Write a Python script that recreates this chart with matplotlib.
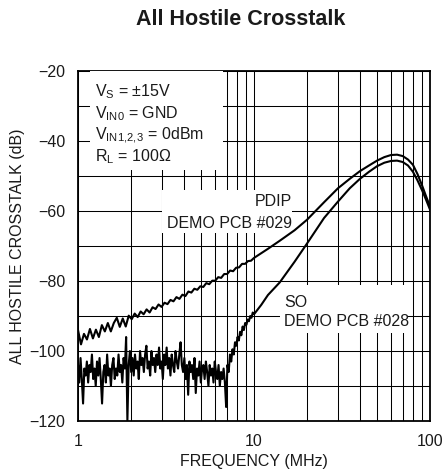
"""
All Hostile Crosstalk vs frequency, PDIP and SO demo boards.
"""
import numpy as np
import matplotlib
matplotlib.use("Agg")
import matplotlib.pyplot as plt
from matplotlib.patches import Rectangle
from matplotlib.ticker import FixedLocator, NullFormatter

# ── Data ─────────────────────────────────────────────────────────────────────
# noisy low-frequency part, sampled on a log grid from 1 to 10 MHz
pdip_low_db = [
    -94.0, -98.1, -95.1, -96.7, -93.7, -96.4, -93.9, -96.0, -92.6, -94.4,
    -92.0, -94.4, -92.0, -90.5, -93.1, -90.7, -93.0, -89.9, -90.9, -89.3,
    -90.3, -88.7, -89.5, -88.1, -89.0, -87.5, -88.0, -86.7, -87.4, -86.2,
    -86.6, -85.4, -85.8, -84.6, -85.1, -83.9, -84.3, -83.0, -83.3, -82.2,
    -82.5, -81.5, -81.7, -80.6, -80.9, -79.9, -79.9, -78.9, -79.1, -78.0,
    -78.0, -77.0, -77.2, -76.2, -76.1, -75.1, -75.1, -74.3, -74.2, -73.4,
]
so_low_db = [
    -104, -109, -102, -108, -115, -105, -107, -103, -109, -104,
    -106, -101, -108, -105, -110, -103, -107, -102, -108, -115,
    -106, -104, -109, -101, -107, -105, -110, -104, -102, -108,
    -105, -107, -101, -106, -104, -109, -102, -105, -96, -120,
    -104, -100, -106, -102, -107, -101, -105, -103, -108, -100,
    -104, -102, -106, -101, -98.5, -105, -103, -107, -100, -104,
    -102, -106, -101, -104, -99, -105, -103, -108, -101, -104,
    -99, -105, -102, -107, -101, -104, -106, -100, -103, -105,
    -101, -97.5, -104, -106, -102, -108, -104, -112.5, -103, -106,
    -104, -108, -102, -112, -105, -107, -103, -109, -105, -104,
    -108, -103, -106, -110, -104, -107, -105, -109, -103, -106,
    -108, -104, -110, -106, -108, -105, -109, -116, -104, -106,
    -101, -103, -99.5, -101, -97.5, -98.5, -96, -97, -94.5, -95.5,
    -93, -94, -92, -92.5, -91, -91.5, -90, -90.5, -89, -89.5,
]

# smooth high-frequency part, 10 to 100 MHz
pdip_hi_freq = [10, 12, 14, 17, 20, 25, 30, 35, 40, 45, 50, 55, 60, 65,
                70, 75, 80, 85, 90, 95, 100]
pdip_hi_db = [-73.4, -70.8, -68.5, -65.5, -62.5, -57.5, -53.5, -50.8, -48.6,
              -47.0, -45.6, -44.6, -44.0, -43.9, -44.3, -45.3, -46.8, -49.5,
              -52.6, -55.8, -58.7]
so_hi_freq = [10, 11, 12, 14, 17, 20, 25, 30, 35, 40, 45, 50, 55, 60, 65,
              70, 75, 80, 85, 90, 95, 100]
so_hi_db = [-89.5, -86.8, -84.0, -80.4, -74.5, -69.3, -62.0, -57.3, -53.5,
            -50.8, -48.8, -47.2, -46.2, -45.7, -45.6, -46.0, -47.0, -48.8,
            -51.3, -54.0, -56.8, -59.6]

y_major = [-120, -100, -80, -60, -40, -20]
y_minor = [-110, -90, -70, -50, -30]
x_major = [1, 10, 100]
x_labels = ["1", "10", "100"]
x_minor = [2, 3, 4, 5, 6, 7, 8, 9, 20, 30, 40, 50, 60, 70, 80, 90]

conditions = ["V$_S$ = \u00b115V", "V$_{IN0}$ = GND",
              r"V$_{IN1,\!2,\!3}$ = 0dBm", "R$_L$ = 100\u03a9"]

# ── Build the traces ─────────────────────────────────────────────────────────
pdip_f = np.concatenate([np.logspace(0, 1, len(pdip_low_db)), pdip_hi_freq[1:]])
pdip_db = np.concatenate([pdip_low_db, pdip_hi_db[1:]])
so_f = np.concatenate([np.logspace(0, 1, len(so_low_db)), so_hi_freq[1:]])
so_db = np.concatenate([so_low_db, so_hi_db[1:]])

plt.rcParams["font.family"] = ["Liberation Sans", "DejaVu Sans"]
plt.rcParams["mathtext.default"] = "regular"
FS = 11.5
INK = "#1a1a1a"

fig = plt.figure(figsize=(4.45, 4.76), dpi=100)
ax = fig.add_axes([0.1753, 0.1155, 0.791, 0.7353])

ax.plot(pdip_f, pdip_db, color="black", lw=1.5, zorder=4)
ax.plot(so_f, so_db, color="black", lw=1.5, zorder=4)

ax.set_xscale("log")
ax.set_xlim(1, 100)
ax.set_ylim(-120, -20)

ax.xaxis.set_major_locator(FixedLocator(x_major))
ax.set_xticklabels(x_labels)
ax.xaxis.set_minor_locator(FixedLocator(x_minor))
ax.xaxis.set_minor_formatter(NullFormatter())
ax.set_yticks(y_major)
ax.set_yticklabels([f"\u2212{abs(v)}" for v in y_major])
ax.set_yticks(y_minor, minor=True)

ax.grid(True, which="both", color="black", lw=0.75)
ax.set_axisbelow(True)
ax.tick_params(which="both", length=0, labelsize=FS, colors=INK)
ax.tick_params(axis="x", pad=9)
ax.tick_params(axis="y", pad=9)
for s in ax.spines.values():
    s.set_linewidth(1.3)

ax.set_xlabel("FREQUENCY (MHz)", fontsize=FS, labelpad=4, color=INK)
ax.set_ylabel("ALL HOSTILE CROSSTALK (dB)", fontsize=FS, labelpad=3,
              color=INK)

# ── White label boxes over the grid ──────────────────────────────────────────
for x0, y0, w, h in [(0.034, 0.718, 0.378, 0.282),
                     (0.240, 0.536, 0.369, 0.123),
                     (0.574, 0.251, 0.361, 0.137)]:
    ax.add_patch(Rectangle((x0, y0), w, h, transform=ax.transAxes,
                           fc="white", ec="none", zorder=3))

for i, line in enumerate(conditions):
    ax.text(0.048, 0.94 - i * 0.062, line, transform=ax.transAxes,
            fontsize=FS, va="center", ha="left", color=INK, zorder=5)

ax.text(0.609, 0.627, "PDIP", transform=ax.transAxes, fontsize=FS,
        ha="right", va="center", color=INK, zorder=5)
ax.text(0.609, 0.565, "DEMO PCB #029", transform=ax.transAxes, fontsize=FS,
        ha="right", va="center", color=INK, zorder=5)
ax.text(0.585, 0.340, "SO", transform=ax.transAxes, fontsize=FS,
        ha="left", va="center", color=INK, zorder=5)
ax.text(0.585, 0.283, "DEMO PCB #028", transform=ax.transAxes, fontsize=FS,
        ha="left", va="center", color=INK, zorder=5)

fig.text(0.5416, 0.958, "All Hostile Crosstalk", ha="center", va="center",
         fontsize=15.5, fontweight="bold", color=INK)

fig.savefig("out.png", dpi=100)
